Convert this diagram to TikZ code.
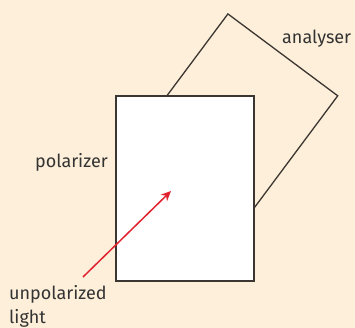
\documentclass[tikz,border=0pt]{standalone}
\usepackage{fontspec}
\setmainfont{Fira Sans}
\usetikzlibrary{arrows.meta}
\definecolor{paper}{HTML}{FDEFD9}
\definecolor{frame}{HTML}{3B3631}
\definecolor{ray}{HTML}{E3222F}
\definecolor{ink}{HTML}{333333}

\begin{document}
\begin{tikzpicture}[
    x=1pt, y=-1pt,
    sheet/.style={draw=frame, line width=1.3pt, inner sep=0pt},
    lbl/.style={font=\fontsize{18}{24}\selectfont, text=ink, inner sep=0pt},
]

% Background
\fill[paper] (0, 0) rectangle (355, 328);
\useasboundingbox (0, 0) rectangle (355, 328);

% Analyser (tilted, behind)
\node[sheet, minimum width=137pt, minimum height=150pt, rotate=-36.7]
    (ana) at (238, 115) {};

% Polarizer (front)
\node[sheet, fill=white, minimum width=138pt, minimum height=185pt]
    (pol) at (185, 188.5) {};

% Labels
\node[lbl, anchor=base east] (polt) at (108, 168) {polarizer};
\node[lbl, anchor=base west] (anat) at (282, 44) {analyser};
\node[lbl, anchor=base west, align=left] (unp) at (9, 323)
    {unpolarized\\light};

% Light ray
\coordinate (src) at (83, 277);
\coordinate (tip) at (171, 191);
\draw[-{Stealth[length=10pt, width=9pt]}, ray, line width=1.5pt] (src) -- (tip);

\end{tikzpicture}
\end{document}
